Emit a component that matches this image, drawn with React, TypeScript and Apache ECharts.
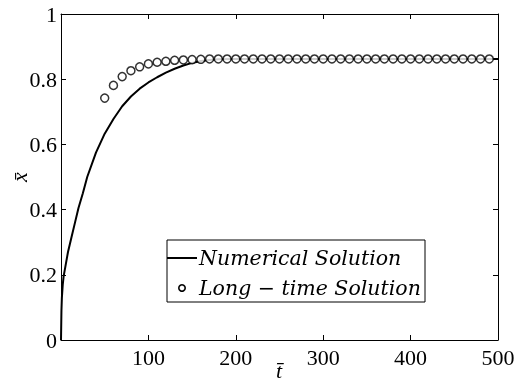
import React, { useEffect, useRef } from "react";
import * as echarts from "echarts";

const numT = [0, 0.5, 1, 2, 3, 5, 8, 12, 16, 20, 25, 30, 40, 50, 60, 70, 80, 90, 100, 110, 120, 130, 140, 150, 160, 170, 180, 200, 250, 300, 350, 400, 450, 500];
const numX = [0, 0.09, 0.13, 0.17, 0.195, 0.225, 0.27, 0.315, 0.36, 0.405, 0.45, 0.5, 0.575, 0.633, 0.678, 0.717, 0.747, 0.771, 0.79, 0.806, 0.82, 0.832, 0.842, 0.85, 0.856, 0.859, 0.861, 0.862, 0.862, 0.862, 0.862, 0.862, 0.862, 0.862];

const ltT = [50, 60, 70, 80, 90, 100, 110, 120, 130, 140, 150, 160, 170, 180, 190, 200, 210, 220, 230, 240, 250, 260, 270, 280, 290, 300, 310, 320, 330, 340, 350, 360, 370, 380, 390, 400, 410, 420, 430, 440, 450, 460, 470, 480, 490];
const ltX = [0.742, 0.781, 0.808, 0.826, 0.838, 0.847, 0.852, 0.855, 0.858, 0.859, 0.86, 0.861, 0.862, 0.862, 0.862, 0.862, 0.862, 0.862, 0.862, 0.862, 0.862, 0.862, 0.862, 0.862, 0.862, 0.862, 0.862, 0.862, 0.862, 0.862, 0.862, 0.862, 0.862, 0.862, 0.862, 0.862, 0.862, 0.862, 0.862, 0.862, 0.862, 0.862, 0.862, 0.862, 0.862];

const seriesNames = ["Numerical Solution", "Long \u2212 time Solution"];
const axisNames = ["t\u0304", "x\u0304"];
const xTicks = [0, 100, 200, 300, 400, 500];
const yTicks = [0, 0.2, 0.4, 0.6, 0.8, 1];

const FAM = "Liberation Serif";
const IT = "DejaVu Serif";

export default function App() {
  const ref = useRef<HTMLDivElement>(null);
  useEffect(() => {
    if (!ref.current) return;
    const chart = echarts.init(ref.current, null, { renderer: "svg" });
    const axisCommon = {
      axisLine: { show: true, onZero: false, lineStyle: { color: "#000", width: 1 } },
      axisTick: { show: true, inside: true, length: 5, lineStyle: { color: "#000" } },
      splitLine: { show: false },
    };
    chart.setOption({
      animation: false,
      textStyle: { fontFamily: FAM, color: "#000" },
      grid: { left: 61, right: 17, top: 14, bottom: 48, containLabel: false, outerBoundsMode: "none" },
      xAxis: [
        {
          type: "value",
          min: xTicks[0],
          max: xTicks[xTicks.length - 1],
          interval: 100,
          ...axisCommon,
          axisLabel: {
            showMinLabel: false,
            margin: 6,
            color: "#000",
            fontFamily: FAM,
            fontSize: 22,
          },
        },
        {
          type: "value",
          position: "top",
          min: xTicks[0],
          max: xTicks[xTicks.length - 1],
          interval: 100,
          ...axisCommon,
          axisLabel: { show: false },
        },
      ],
      yAxis: [
        {
          type: "value",
          min: yTicks[0],
          max: yTicks[yTicks.length - 1],
          interval: 0.2,
          ...axisCommon,
          axisLabel: {
            margin: 4,
            color: "#000",
            fontFamily: FAM,
            fontSize: 22,
            formatter: (v: number) => String(Math.round(v * 10) / 10),
          },
        },
        {
          type: "value",
          position: "right",
          min: yTicks[0],
          max: yTicks[yTicks.length - 1],
          interval: 0.2,
          ...axisCommon,
          axisLabel: { show: false },
        },
      ],
      series: [
        {
          name: seriesNames[0],
          type: "line",
          data: numT.map((t, i) => [t, numX[i]]),
          showSymbol: false,
          symbol: "none",
          lineStyle: { color: "#000", width: 2 },
          z: 2,
        },
        {
          name: seriesNames[1],
          type: "scatter",
          data: ltT.map((t, i) => [t, ltX[i]]),
          symbol: "circle",
          symbolSize: 8,
          itemStyle: { color: "#fff", borderColor: "#000", borderWidth: 1.5 },
          z: 3,
        },
      ],
      graphic: [
        {
          type: "text",
          z: 50,
          x: 279,
          y: 370,
          style: {
            text: axisNames[0],
            fontFamily: FAM,
            fontStyle: "italic",
            fontSize: 22,
            fill: "#000",
            align: "center",
            verticalAlign: "middle",
          },
        },
        {
          type: "text",
          z: 50,
          x: 19,
          y: 177,
          rotation: Math.PI / 2,
          style: {
            text: axisNames[1],
            fontFamily: FAM,
            fontStyle: "italic",
            fontSize: 22,
            fill: "#000",
            align: "center",
            verticalAlign: "middle",
          },
        },
        {
          type: "rect",
          z: 100,
          shape: { x: 167, y: 240, width: 258, height: 62 },
          style: { fill: "#fff", stroke: "#000", lineWidth: 1 },
        },
        {
          type: "line",
          z: 101,
          shape: { x1: 167, y1: 258, x2: 197, y2: 258 },
          style: { stroke: "#000", lineWidth: 2 },
        },
        {
          type: "circle",
          z: 101,
          shape: { cx: 182, cy: 288, r: 3.2 },
          style: { fill: "#fff", stroke: "#000", lineWidth: 1.6 },
        },
        {
          type: "text",
          z: 101,
          x: 199,
          y: 258,
          style: {
            text: seriesNames[0],
            fontFamily: IT,
            fontStyle: "italic",
            fontSize: 20.5,
            fill: "#000",
            verticalAlign: "middle",
          },
        },
        {
          type: "text",
          z: 101,
          x: 199,
          y: 288,
          style: {
            text: seriesNames[1],
            fontFamily: IT,
            fontStyle: "italic",
            fontSize: 20.5,
            fill: "#000",
            verticalAlign: "middle",
          },
        },
      ],
    });
    return () => chart.dispose();
  }, []);
  return <div ref={ref} style={{ position: "fixed", left: 0, top: 0, width: 515, height: 388 }} />;
}
